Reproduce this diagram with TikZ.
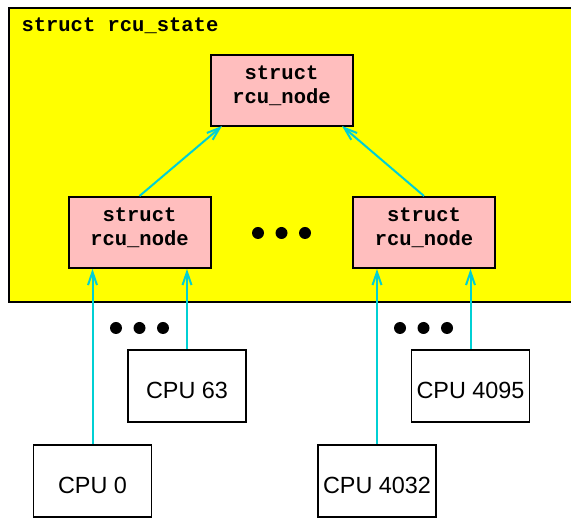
\documentclass[tikz,border=0pt]{standalone}
\usepackage{fontspec}
\setmainfont{Liberation Sans}
\setmonofont{Liberation Mono}
\usetikzlibrary{arrows.meta,positioning}
\definecolor{rcuyellow}{RGB}{255,255,0}
\definecolor{rcupink}{RGB}{255,190,190}
\definecolor{rcucyan}{RGB}{0,208,212}
\tikzset{
  rcunode/.style={draw,line width=2pt,fill=rcupink,minimum width=142pt,minimum height=71pt,
    align=center,text height=39pt,text depth=12pt,
    font=\fontsize{20.5}{24}\selectfont\ttfamily\bfseries},
  cpubox/.style={draw,line width=1.8pt,fill=white,minimum width=118pt,minimum height=72pt,
    text height=26pt,font=\fontsize{23.4}{27}\selectfont},
  uplink/.style={draw=rcucyan,line width=2pt,-{Straight Barb[length=13pt,width=9pt]}},
}

\begin{document}
\begin{tikzpicture}[x=1pt,y=-1pt]
      \useasboundingbox (0,0) rectangle (571,518);
      \clip (0,0) rectangle (571,518);
      \draw[line width=2.4pt,fill=rcuyellow] (9,8) rectangle (580,302);
      \node[anchor=west,font=\fontsize{20.5}{24}\selectfont\ttfamily\bfseries] (state) at (18,26) {struct rcu\_state};

      \node[rcunode] (top) at (281.5,90.5) {struct\\rcu\_node};
      \node[rcunode] (left) at (139.5,232.5) {struct\\rcu\_node};
      \node[rcunode] (right) at (424,232.5) {struct\\rcu\_node};

      \node[cpubox] (cpu63) at (187,386) {CPU 63};
      \node[cpubox] (cpu0) at (92.5,481) {CPU 0};
      \node[cpubox] (cpu4095) at (470.5,386) {CPU 4095};
      \node[cpubox] (cpu4032) at (377,481) {CPU 4032};

      \coordinate (topl) at (222,126);
      \coordinate (topr) at (342,126);

      \draw[uplink] (left.north) -- (topl);
      \draw[uplink] (right.north) -- (topr);
      \draw[uplink] (cpu0.north) -- (cpu0.north |- left.south);
      \draw[uplink] (cpu63.north) -- (cpu63.north |- left.south);
      \draw[uplink] (cpu4032.north) -- (cpu4032.north |- right.south);
      \draw[uplink] (cpu4095.north) -- (cpu4095.north |- right.south);

      \foreach \x/\y in {258/233,281.5/233,305/233,116/328,139.5/328,163/328,400/328,423.5/328,447/328}
        \fill (\x,\y) circle (6pt);
    \end{tikzpicture}
\end{document}
